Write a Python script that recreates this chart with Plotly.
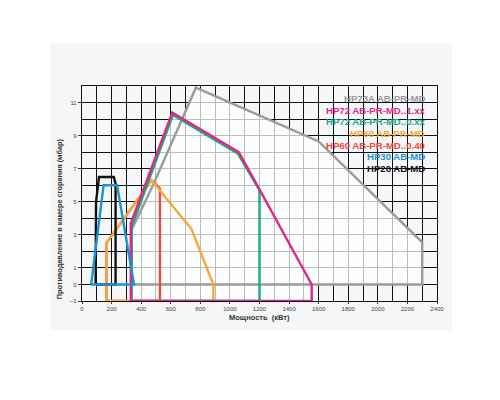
import plotly.graph_objects as go

# envelope outlines (x in kW, y in mbar)
hp73_x = [335, 335, 480, 770, 1600, 2300, 2300, 335]
hp73_y = [0, 3.3, 6.0, 11.9, 8.65, 2.55, 0, 0]

hp72_1_x = [330, 330, 610, 1060, 1200, 1553, 1553, 330]
hp72_1_y = [-1, 3.7, 10.4, 8.0, 5.75, 0, -1, -1]

hp72_0_x = [336, 336, 615, 1055, 1200, 1200, 336]
hp72_0_y = [-1, 3.5, 10.25, 7.9, 5.7, -1, -1]

hp60_x = [165, 165, 470, 740, 888, 888, 165]
hp60_y = [-1, 2.5, 6.3, 3.35, 0, -1, -1]

hp60_040_x = [165, 165, 470, 527, 527, 165]
hp60_040_y = [-1, 2.5, 6.3, 5.8, -1, -1]

hp30_x = [62, 146, 237, 352, 62]
hp30_y = [0, 6.0, 6.0, 0, 0]

hp20_x = [92, 95, 115, 215, 227, 227, 92]
hp20_y = [0, 5.0, 6.5, 6.5, 6.1, 0, 0]

# combined working field of HP72 / HP73A (lighter area)
field_x = [330, 330, 610, 676, 770, 1600, 2300, 2300, 1553, 1553, 330]
field_y = [-1, 3.7, 10.4, 10.05, 11.9, 8.65, 2.55, 0, 0, -1, -1]

names = ["HP73A AB-PR-MD", "HP72 AB-PR-MD..1.xx", "HP72 AB-PR-MD..0.xx",
         "HP60 AB-PR-MD", "HP60 AB-PR-MD..0.40", "HP30 AB-MD", "HP20 AB-MD"]
colors = ["#9b9b9b", "#dc2a86", "#1fa77f", "#f6a83c", "#ee4a3a", "#1b95d2", "#111111"]

x_ticks = list(range(0, 2401, 200))
y_ticks = [-1, 0, 1, 3, 5, 7, 9, 11]

font = "Liberation Sans"

fig = go.Figure()

fig.add_trace(go.Scatter(x=field_x, y=field_y, mode="lines", fill="toself",
                         fillcolor="rgba(255,255,255,0.72)", line=dict(width=0),
                         hoverinfo="skip", showlegend=False))

series = [
    (hp73_x, hp73_y, 0),
    (hp60_040_x, hp60_040_y, 4),
    (hp60_x, hp60_y, 3),
    (hp72_0_x, hp72_0_y, 2),
    (hp72_1_x, hp72_1_y, 1),
    (hp20_x, hp20_y, 6),
    (hp30_x, hp30_y, 5),
]
for xs, ys, i in series:
    fig.add_trace(go.Scatter(x=xs, y=ys, mode="lines", name=names[i],
                             line=dict(color=colors[i], width=2.4),
                             showlegend=False))

# legend as coloured text block, top right
for i, (n, c) in enumerate(zip(names, colors)):
    fig.add_annotation(x=2335, y=11.25 - i * 0.705, xref="x", yref="y",
                       text="<b>" + n + "</b>", showarrow=False, xanchor="right",
                       font=dict(family=font, size=9.6, color=c))

fig.add_annotation(x=0.5, y=-0.076, xref="paper", yref="paper",
                   xanchor="center", yanchor="middle",
                   text="<b>Мощность  (кВт)</b>", showarrow=False,
                   font=dict(family=font, size=7.5, color="#333"))
fig.add_annotation(x=-0.065, y=0.385, xref="paper", yref="paper", textangle=-90,
                   xanchor="center", yanchor="middle",
                   text="<b>Противодавление в камере сгорания (мбар)</b>", showarrow=False,
                   font=dict(family=font, size=7.3, color="#333"))

fig.add_shape(type="rect", xref="paper", yref="paper", x0=-0.09, x1=1.042,
              y0=-0.136, y1=1.2, fillcolor="#f5f6f8", line=dict(width=0), layer="below")

fig.update_xaxes(range=[0, 2400], tickvals=x_ticks, showgrid=True, gridcolor="#111",
                 gridwidth=1.2, ticks="outside", ticklen=2, tickcolor="#333",
                 tickfont=dict(family=font, size=6, color="#444"),
                 minor=dict(dtick=100, tick0=0, showgrid=True, gridcolor="#111", gridwidth=1.2),
                 showline=True, linecolor="#111", linewidth=1.2, mirror=True, zeroline=False)
fig.update_yaxes(range=[-1, 12], tickvals=y_ticks, showgrid=True, gridcolor="#111",
                 gridwidth=1.2, ticks="outside", ticklen=3, tickcolor="#333",
                 tickfont=dict(family=font, size=6, color="#444"),
                 minor=dict(tickmode="linear", dtick=1, tick0=0, showgrid=True,
                            gridcolor="#111", gridwidth=1.2),
                 showline=True, linecolor="#111", linewidth=1.2, mirror=True, zeroline=False)

# page body has an 8px margin, so shift the plot area up/left by that much
fig.update_layout(width=500, height=400, margin=dict(l=74, r=71, t=78, b=107),
                  plot_bgcolor="#e3e8ed", paper_bgcolor="white", showlegend=False)

fig.write_html("out.html")
